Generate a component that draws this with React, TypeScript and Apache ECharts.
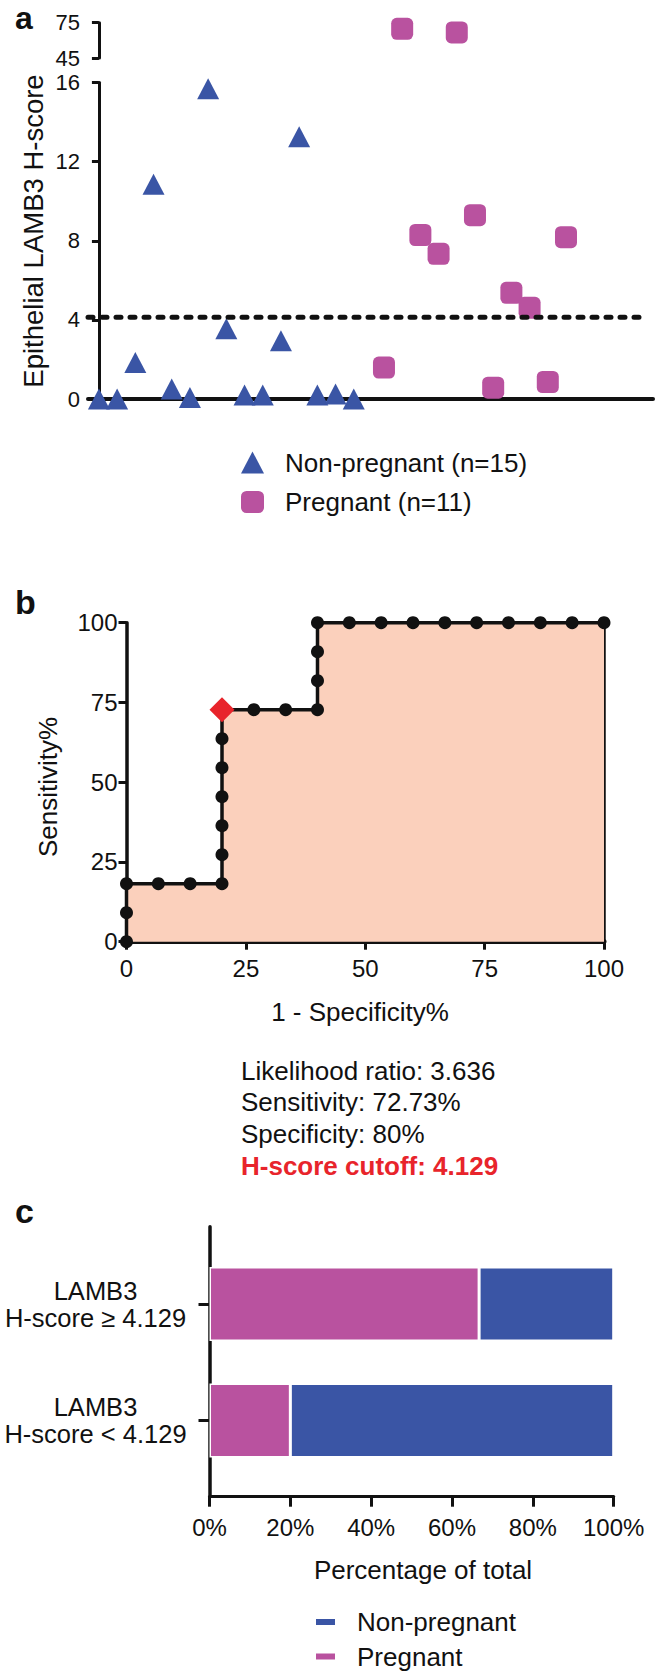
import React, { useEffect, useRef } from "react";
import * as echarts from "echarts";

// ---------------- Panel a: scatter of epithelial LAMB3 H-score ----------------
const groupNames = ["Non-pregnant (n=15)", "Pregnant (n=11)"];
const nonPregnantScores = [0, 0, 1.85, 10.86, 0.5, 0.08, 15.68, 3.55, 0.2, 0.2, 2.94, 13.26, 0.2, 0.25, 0];
const pregnantScores = [1.59, 69.8, 8.29, 7.34, 66.7, 9.29, 0.57, 5.37, 4.61, 0.86, 8.18];
const hScoreCutoff = 4.129;
const lowerRange = [0, 16];
const lowerStep = 4;
const upperRange = [45, 75];
const upperStep = 30;

// ---------------- Panel b: ROC curve ----------------
const rocFpr = [0, 0, 0, 6.67, 13.33, 20, 20, 20, 20, 20, 20, 20, 26.67, 33.33, 40, 40, 40, 40, 46.67, 53.33, 60, 66.67, 73.33, 80, 86.67, 93.33, 100];
const rocTpr = [0, 9.09, 18.18, 18.18, 18.18, 18.18, 27.27, 36.36, 45.45, 54.55, 63.64, 72.73, 72.73, 72.73, 72.73, 81.82, 90.91, 100, 100, 100, 100, 100, 100, 100, 100, 100, 100];
const optimalIndex = 11;
const rocTicks = [0, 100, 25];
const aucLines = ["AUC= 0.7818", "P value= 0.0158"];
const statsLines = ["Likelihood ratio: 3.636", "Sensitivity: 72.73%", "Specificity: 80%"];
const cutoffText = "H-score cutoff: 4.129";

// ---------------- Panel c: stacked percentage bars ----------------
const barCategories = ["LAMB3\nH-score \u2265 4.129", "LAMB3\nH-score < 4.129"];
const barSeriesNames = ["Non-pregnant", "Pregnant"];
const pregnantPct = [66.7, 20];
const nonPregnantPct = [33.3, 80];
const pctTicks = [0, 100, 20];

// ---------------- styles / layout ----------------
const FONT = "'Liberation Sans', Arial, Helvetica, sans-serif";
const INK = "#111111";
const BLUE = "#3a55a5";
const PINK = "#b9529f";
const PEACH = "#fbd0bc";
const RED = "#e8242b";

const X_MIN = -0.6;
const X_MAX = 30.44;
const GROUP_GAP = 1.66;
const CUTOFF_LINE_END = 29.9;

function buildOption() {
  const npPos = nonPregnantScores.map((_, i) => i);
  const pPos = pregnantScores.map((_, j) => nonPregnantScores.length - 1 + GROUP_GAP + j);
  const low = (pos: number[], vals: number[]) =>
    vals.map((v, i) => [pos[i], v]).filter((d) => d[1] <= lowerRange[1]);
  const high = (pos: number[], vals: number[]) =>
    vals.map((v, i) => [pos[i], v]).filter((d) => d[1] > lowerRange[1]);

  const axisLineStyle = (w: number) => ({ show: true, lineStyle: { color: INK, width: w } });
  const tick = (len: number) => ({ show: true, length: len, lineStyle: { color: INK, width: 3 } });

  const rocData: any[] = rocFpr.map((x, i) =>
    i === optimalIndex
      ? { value: [x, rocTpr[i]], symbol: "diamond", symbolSize: 25, itemStyle: { color: RED }, z: 10 }
      : [x, rocTpr[i]]
  );

  const textEl = (text: string, x: number, y: number, size: number, extra: any = {}) => ({
    type: "text",
    x,
    y,
    silent: true,
    ...(extra.rotation ? { rotation: extra.rotation } : {}),
    style: {
      text,
      fontSize: size,
      fontFamily: FONT,
      fontWeight: extra.bold ? "bold" : "normal",
      fill: extra.color || INK,
      align: extra.align || "center",
      verticalAlign: "middle",
    },
  });

  return {
    animation: false,
    backgroundColor: "#ffffff",
    textStyle: { fontFamily: FONT },
    grid: [
      { left: 88, top: 82.5, width: 565, height: 316.5 },
      { left: 88, top: 22.7, width: 565, height: 35.3 },
      { left: 126.5, top: 622.7, width: 477.5, height: 319 },
      { left: 209.5, top: 1245.75, width: 404.2, height: 233 },
      { left: 209.5, top: 1226.7, width: 404.2, height: 270 },
    ],
    xAxis: [
      {
        gridIndex: 0, type: "value", min: X_MIN, max: X_MAX,
        axisLine: axisLineStyle(4), axisTick: { show: false }, axisLabel: { show: false }, splitLine: { show: false },
      },
      {
        gridIndex: 1, type: "value", min: X_MIN, max: X_MAX, show: false,
      },
      {
        gridIndex: 2, type: "value", min: rocTicks[0], max: rocTicks[1], interval: rocTicks[2],
        axisLine: axisLineStyle(5), axisTick: tick(8), splitLine: { show: false },
        axisLabel: { fontSize: 24, color: INK, margin: 15, fontFamily: FONT },
      },
      {
        gridIndex: 3, type: "value", min: pctTicks[0], max: pctTicks[1], show: false,
      },
      {
        gridIndex: 4, type: "value", min: pctTicks[0], max: pctTicks[1], interval: pctTicks[2],
        axisLine: axisLineStyle(3), axisTick: tick(10), splitLine: { show: false },
        axisLabel: { fontSize: 24, color: INK, margin: 19, fontFamily: FONT, formatter: "{value}%" },
      },
    ],
    yAxis: [
      {
        gridIndex: 0, type: "value", min: lowerRange[0], max: lowerRange[1], interval: lowerStep,
        axisLine: axisLineStyle(3), axisTick: tick(7), splitLine: { show: false },
        axisLabel: { fontSize: 22, color: INK, margin: 8, fontFamily: FONT },
      },
      {
        gridIndex: 1, type: "value", min: upperRange[0], max: upperRange[1], interval: upperStep,
        axisLine: axisLineStyle(3), axisTick: tick(7), splitLine: { show: false },
        axisLabel: { fontSize: 22, color: INK, margin: 8, fontFamily: FONT },
      },
      {
        gridIndex: 2, type: "value", min: rocTicks[0], max: rocTicks[1], interval: rocTicks[2],
        axisLine: axisLineStyle(3.5), axisTick: tick(8), splitLine: { show: false },
        axisLabel: { fontSize: 24, color: INK, margin: 9, fontFamily: FONT },
      },
      {
        gridIndex: 3, type: "category", data: barCategories, inverse: true,
        axisLine: { show: false }, axisTick: { show: true, alignWithLabel: true, length: 11, lineStyle: { color: INK, width: 3 } },
        axisLabel: { fontSize: 25.5, lineHeight: 27, color: INK, margin: 114, align: "center", fontFamily: FONT },
      },
      {
        gridIndex: 4, type: "value", min: 0, max: 1,
        axisLine: axisLineStyle(3.5), axisTick: { show: false }, axisLabel: { show: false }, splitLine: { show: false },
      },
    ],
    legend: [
      {
        orient: "vertical", left: 241, top: 449.5, padding: 0, itemGap: 13.5,
        itemWidth: 23, itemHeight: 22,
        data: [
          { name: groupNames[0], icon: "triangle" },
          { name: groupNames[1], icon: "roundRect" },
        ],
        textStyle: { fontSize: 26, color: INK, fontFamily: FONT, padding: [0, 0, 0, 16] },
        selectedMode: false,
      },
      {
        orient: "vertical", left: 314, top: 1609, padding: 0, itemGap: 8.5,
        itemWidth: 21, itemHeight: 8,
        data: [
          { name: barSeriesNames[0], icon: "rect" },
          { name: barSeriesNames[1], icon: "rect" },
        ],
        textStyle: { fontSize: 26, color: INK, fontFamily: FONT, padding: [0, 0, 0, 16] },
        selectedMode: false,
      },
    ],
    series: [
      // panel a
      {
        name: groupNames[0], type: "scatter", xAxisIndex: 0, yAxisIndex: 0,
        symbol: "triangle", symbolSize: [22, 21], itemStyle: { color: BLUE, opacity: 1 },
        data: low(npPos, nonPregnantScores), z: 3,
      },
      {
        name: groupNames[0], type: "scatter", xAxisIndex: 1, yAxisIndex: 1,
        symbol: "triangle", symbolSize: [22, 21], itemStyle: { color: BLUE, opacity: 1 },
        data: high(npPos, nonPregnantScores), z: 3,
      },
      {
        name: groupNames[1], type: "scatter", xAxisIndex: 0, yAxisIndex: 0,
        symbol: "roundRect", symbolSize: 22, itemStyle: { color: PINK, opacity: 1 },
        data: low(pPos, pregnantScores), z: 3,
      },
      {
        name: groupNames[1], type: "scatter", xAxisIndex: 1, yAxisIndex: 1,
        symbol: "roundRect", symbolSize: 22, itemStyle: { color: PINK, opacity: 1 },
        data: high(pPos, pregnantScores), z: 3,
      },
      {
        name: "cutoff", type: "line", xAxisIndex: 0, yAxisIndex: 0, showSymbol: false, silent: true, z: 5,
        lineStyle: { color: INK, width: 5, type: [5, 9], cap: "round" },
        data: [[X_MIN, hScoreCutoff], [CUTOFF_LINE_END, hScoreCutoff]],
      },
      // panel b
      {
        name: "ROC edge", type: "line", xAxisIndex: 2, yAxisIndex: 2, showSymbol: false, silent: true, z: 2,
        lineStyle: { color: INK, width: 3.5 },
        data: [[rocFpr[rocFpr.length - 1], rocTpr[rocTpr.length - 1]], [rocFpr[rocFpr.length - 1], 0]],
      },
      {
        name: "ROC", type: "line", xAxisIndex: 2, yAxisIndex: 2, clip: false, z: 3,
        symbol: "circle", symbolSize: 13, showAllSymbol: true,
        itemStyle: { color: INK },
        lineStyle: { color: INK, width: 3.5 },
        areaStyle: { color: PEACH, opacity: 1 },
        data: rocData,
      },
      // panel c
      {
        name: barSeriesNames[1], type: "bar", xAxisIndex: 3, yAxisIndex: 3, stack: "total", barWidth: 74,
        itemStyle: { color: PINK, borderColor: "#ffffff", borderWidth: 1.5 },
        data: pregnantPct,
      },
      {
        name: barSeriesNames[0], type: "bar", xAxisIndex: 3, yAxisIndex: 3, stack: "total", barWidth: 74,
        itemStyle: { color: BLUE, borderColor: "#ffffff", borderWidth: 1.5 },
        data: nonPregnantPct,
      },
    ],
    graphic: [
      textEl("a", 24, 17.5, 32, { bold: true }),
      textEl("b", 25.5, 601.5, 34, { bold: true }),
      textEl("c", 24.5, 1211, 34, { bold: true }),
      textEl("Epithelial LAMB3 H-score", 33, 231, 27.5, { rotation: Math.PI / 2 }),
      textEl("Sensitivity%", 48, 787, 26, { rotation: Math.PI / 2 }),
      textEl("1 - Specificity%", 360, 1012, 26),
      textEl(aucLines[0], 448, 752, 26),
      textEl(aucLines[1], 448, 784, 26),
      ...statsLines.map((s, i) => textEl(s, 241, 1070.7 + i * 31.7, 26, { align: "left" })),
      textEl(cutoffText, 241, 1165.7, 26, { align: "left", bold: true, color: RED }),
      textEl("Percentage of total", 423, 1570, 26),
    ],
  };
}

export default function App() {
  const ref = useRef<HTMLDivElement>(null);
  useEffect(() => {
    if (!ref.current) return;
    const chart = echarts.init(ref.current, null, { renderer: "svg" });
    chart.setOption(buildOption() as any);
    return () => chart.dispose();
  }, []);
  return (
    <div
      ref={ref}
      style={{ position: "absolute", left: 0, top: 0, width: 657, height: 1672, background: "#ffffff" }}
    />
  );
}
